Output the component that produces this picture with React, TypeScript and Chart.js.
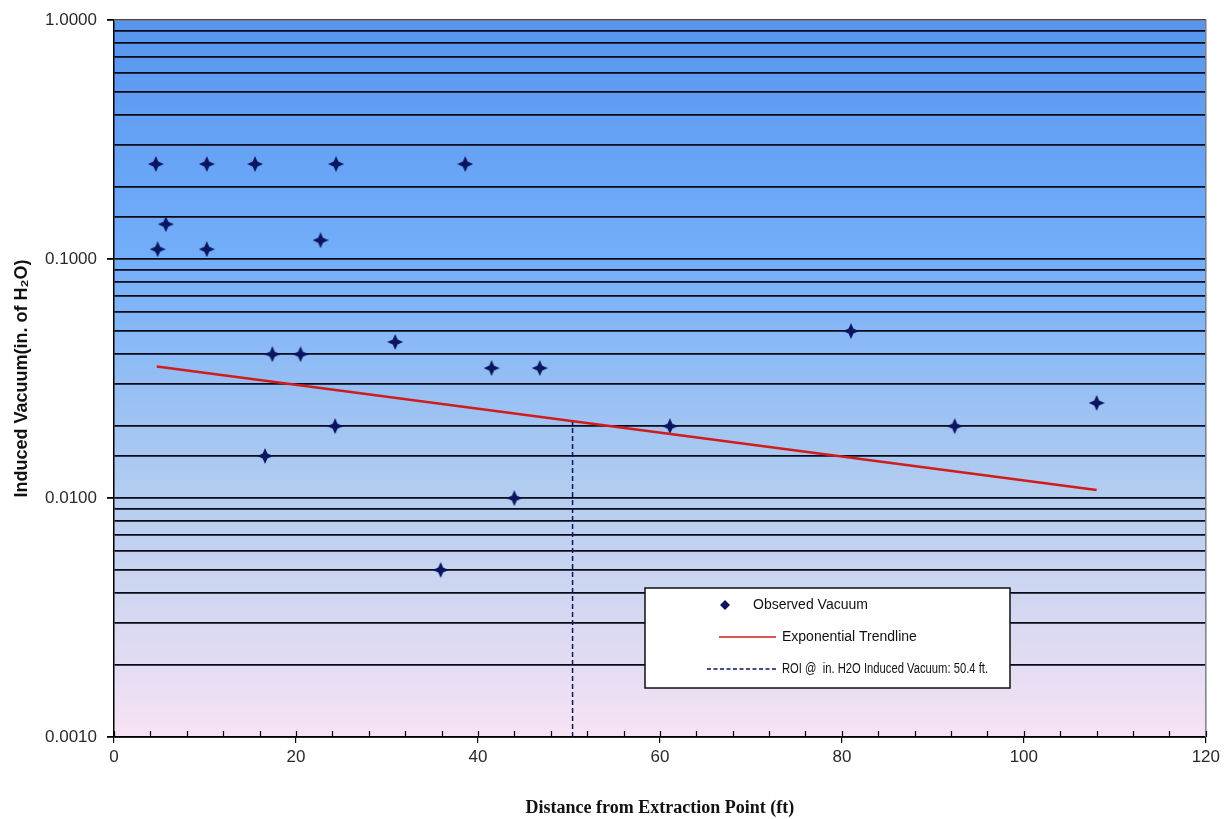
import React, { useEffect, useRef } from "react";
import { Chart, registerables } from "chart.js";

Chart.register(...registerables);

// ---- Data ----
const observedX = [4.6, 4.8, 5.7, 10.2, 10.2, 15.5, 16.6, 17.4, 20.5, 22.7, 24.3, 24.4, 30.9, 35.9, 38.6, 41.5, 44.0, 46.8, 61.1, 81.0, 92.4, 108.0];
const observedY = [0.25, 0.11, 0.14, 0.25, 0.11, 0.25, 0.015, 0.04, 0.04, 0.12, 0.02, 0.25, 0.045, 0.005, 0.25, 0.035, 0.01, 0.035, 0.02, 0.05, 0.02, 0.025];
const trendX = [4.7, 108.0];
const trendY = [0.0355, 0.0108];
const roiX = [50.4, 50.4];
const roiY = [0.001, 0.0208];
const xTickStep = 20;
const xMinorStep = 4;
const xRange = [0, 120];
const yRange = [0.001, 1];
const legendLabels = ["Observed Vacuum", "Exponential Trendline", "ROI @  in. H2O Induced Vacuum: 50.4 ft."];
const yTitle = "Induced Vacuum(in. of H\u2082O)";
const xTitle = "Distance from Extraction Point (ft)";

const NAVY = "#0b1560";
const RED = "#d01c1c";

function makeStar(): HTMLCanvasElement {
  const c = document.createElement("canvas");
  const s = 16;
  c.width = s;
  c.height = s;
  const g = c.getContext("2d")!;
  const m = s / 2;
  const i = 2.4;
  g.fillStyle = NAVY;
  g.beginPath();
  g.moveTo(m, 0);
  g.lineTo(m + i, m - i);
  g.lineTo(s, m);
  g.lineTo(m + i, m + i);
  g.lineTo(m, s);
  g.lineTo(m - i, m + i);
  g.lineTo(0, m);
  g.lineTo(m - i, m - i);
  g.closePath();
  g.fill();
  return c;
}

const isMajor = (v: number) => {
  const l = Math.log10(v);
  return Math.abs(l - Math.round(l)) < 1e-9;
};

const decorPlugin = {
  id: "decor",
  beforeDraw(chart: any) {
    const { ctx, chartArea: a } = chart;
    const grad = ctx.createLinearGradient(0, a.top, 0, a.bottom);
    grad.addColorStop(0, "#5795ee");
    grad.addColorStop(0.33, "#73aefa");
    grad.addColorStop(0.66, "#b3cdef");
    grad.addColorStop(1, "#f8e3f4");
    ctx.save();
    ctx.fillStyle = grad;
    ctx.fillRect(a.left, a.top, a.right - a.left, a.bottom - a.top);
    ctx.restore();
  },
  afterDraw(chart: any) {
    const { ctx, chartArea: a } = chart;
    const xs = chart.scales.x;
    ctx.save();
    // border top/right
    ctx.strokeStyle = "#7a7f8a";
    ctx.lineWidth = 1.5;
    ctx.beginPath();
    ctx.moveTo(a.left, a.top);
    ctx.lineTo(a.right, a.top);
    ctx.lineTo(a.right, a.bottom);
    ctx.stroke();
    // minor x ticks (inside)
    ctx.strokeStyle = "#000";
    ctx.lineWidth = 1.2;
    ctx.beginPath();
    for (let v = xRange[0]; v <= xRange[1]; v += xMinorStep) {
      const px = Math.round(xs.getPixelForValue(v)) + 0.5;
      ctx.moveTo(px, a.bottom);
      ctx.lineTo(px, a.bottom - 6);
    }
    ctx.stroke();
    // legend box
    const lx = 645, ly = 588, lw = 365, lh = 100;
    ctx.fillStyle = "#ffffff";
    ctx.fillRect(lx, ly, lw, lh);
    ctx.strokeStyle = "#111";
    ctx.lineWidth = 1.5;
    ctx.strokeRect(lx, ly, lw, lh);
    ctx.font = "14px 'Liberation Sans', Arial, sans-serif";
    ctx.fillStyle = "#111";
    ctx.textBaseline = "middle";
    ctx.textAlign = "left";
    // row 1 diamond
    ctx.fillStyle = NAVY;
    ctx.beginPath();
    ctx.moveTo(725, 600);
    ctx.lineTo(730, 605);
    ctx.lineTo(725, 610);
    ctx.lineTo(720, 605);
    ctx.closePath();
    ctx.fill();
    ctx.fillStyle = "#111";
    ctx.fillText(legendLabels[0], 753, 605, 116);
    // row 2 red line
    ctx.strokeStyle = RED;
    ctx.lineWidth = 1.5;
    ctx.beginPath();
    ctx.moveTo(719, 637);
    ctx.lineTo(776, 637);
    ctx.stroke();
    ctx.fillText(legendLabels[1], 782, 637, 136);
    // row 3 dashed
    ctx.strokeStyle = NAVY;
    ctx.setLineDash([4, 2.5]);
    ctx.beginPath();
    ctx.moveTo(707, 669);
    ctx.lineTo(776, 669);
    ctx.stroke();
    ctx.setLineDash([]);
    ctx.fillText(legendLabels[2], 782, 669, 206);
    ctx.restore();
  },
};

export default function App() {
  const ref = useRef<HTMLCanvasElement>(null);
  useEffect(() => {
    document.body.style.margin = "0";
    const star = makeStar();
    const chart = new Chart(ref.current!, {
      type: "scatter",
      data: {
        datasets: [
          {
            label: legendLabels[2],
            data: roiX.map((x, i) => ({ x, y: roiY[i] })),
            showLine: true,
            borderColor: NAVY,
            borderWidth: 1.5,
            borderDash: [5, 3],
            pointRadius: 0,
          },
          {
            label: legendLabels[1],
            data: trendX.map((x, i) => ({ x, y: trendY[i] })),
            showLine: true,
            borderColor: RED,
            borderWidth: 2.5,
            pointRadius: 0,
          },
          {
            label: legendLabels[0],
            data: observedX.map((x, i) => ({ x, y: observedY[i] })),
            pointStyle: star as any,
            pointRadius: 8,
            showLine: false,
          },
        ],
      },
      options: {
        responsive: false,
        animation: false,
        layout: { padding: { left: 0, top: 19, right: 17, bottom: 0 } },
        plugins: { legend: { display: false }, tooltip: { enabled: false } },
        scales: {
          x: {
            type: "linear",
            min: xRange[0],
            max: xRange[1],
            ticks: {
              stepSize: xTickStep,
              color: "#2a2a2a",
              padding: 4,
              font: { family: "'Liberation Sans Narrow', 'Liberation Sans', Arial", size: 17 },
            },
            grid: { drawOnChartArea: false, tickLength: 6, color: "#000", lineWidth: 1.2 },
            border: { color: "#000", width: 1.5 },
            title: {
              display: true,
              text: xTitle,
              color: "#111",
              padding: { top: 0, bottom: 0 },
              font: { family: "'Liberation Serif', 'DejaVu Serif', serif", size: 18, weight: "bold" },
            },
            afterFit: (s: any) => {
              s.height = 82;
            },
          },
          y: {
            type: "logarithmic",
            min: yRange[0],
            max: yRange[1],
            ticks: {
              autoSkip: false,
              color: "#2a2a2a",
              padding: 10,
              font: { family: "'Liberation Sans', Arial", size: 17 },
              callback: (v: any) => (isMajor(Number(v)) ? Number(v).toFixed(4) : ""),
            },
            grid: {
              color: "#0a0a18",
              lineWidth: 1.8,
              tickLength: 7,
              tickColor: (c: any) => (c.tick && isMajor(c.tick.value) ? "#000" : "rgba(0,0,0,0)"),
            },
            border: { color: "#000", width: 1.5 },
            title: {
              display: true,
              text: yTitle,
              color: "#111",
              padding: { top: 11, bottom: 0 },
              font: { family: "'Liberation Sans', Arial", size: 18, weight: "bold" },
            },
            afterFit: (s: any) => {
              s.width = 114;
            },
          },
        },
      },
      plugins: [decorPlugin],
    });
    return () => chart.destroy();
  }, []);
  return (
    <div style={{ width: 1224, height: 819, position: "relative", background: "#fff" }}>
      <canvas ref={ref} width={1224} height={819} />
    </div>
  );
}
